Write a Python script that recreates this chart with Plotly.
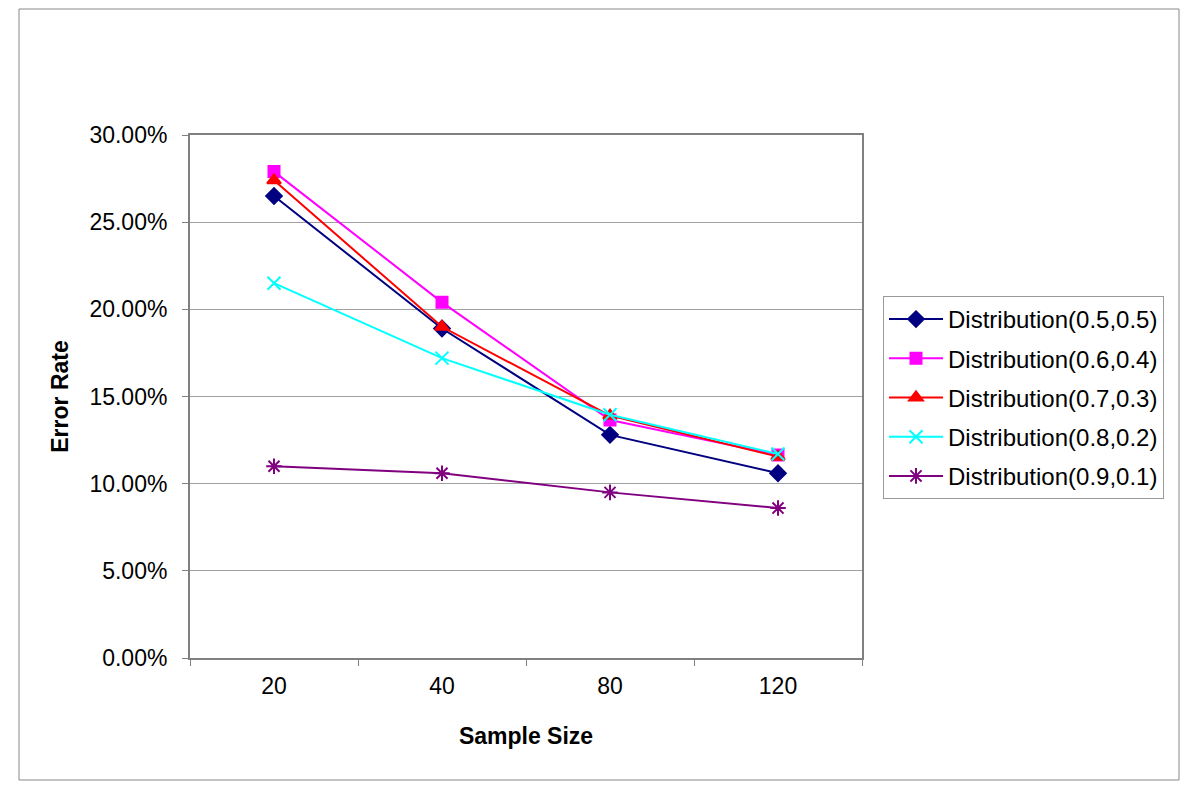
import plotly.graph_objects as go

sample_sizes = ["20", "40", "80", "120"]
series_names = ["Distribution(0.5,0.5)", "Distribution(0.6,0.4)", "Distribution(0.7,0.3)",
                "Distribution(0.8,0.2)", "Distribution(0.9,0.1)"]
d55 = [0.265, 0.189, 0.128, 0.106]
d64 = [0.279, 0.204, 0.1365, 0.1165]
d73 = [0.274, 0.190, 0.139, 0.1155]
d82 = [0.215, 0.172, 0.1395, 0.117]
d91 = [0.110, 0.106, 0.095, 0.086]

values = [d55, d64, d73, d82, d91]
colors = ["#000080", "#FF00FF", "#FF0000", "#00FFFF", "#800080"]
symbols = ["diamond", "square", "triangle-up", "x-thin-open", "asterisk-open"]
sizes = [12, 11, 12, 13, 13]

fig = go.Figure()
for name, v, c, s, sz in zip(series_names, values, colors, symbols, sizes):
    fig.add_trace(go.Scatter(
        x=sample_sizes, y=v, name=name, mode="lines+markers", legendgroup=name,
        line=dict(color=c, width=2),
        marker=dict(symbol=s, size=sz, color=c, line=dict(color=c, width=2)),
    ))

# page body has an 8px margin; work in screen coordinates then shift
OFF = 8
L, R, T, B = 190, 862, 135, 658
W, H = 1200 - OFF, 787 - OFF
pw, ph = R - L, B - T

def px(x):
    return (x - L) / pw

def py(y):
    return (B - y) / ph

fig.add_shape(type="rect", xref="paper", yref="paper",
              x0=px(19), x1=px(1179), y0=py(780), y1=py(9),
              line=dict(color="#888888", width=1), layer="below")

fig.update_layout(
    width=W, height=H,
    margin=dict(l=L - OFF, r=W - (R - OFF), t=T - OFF, b=H - (B - OFF)),
    paper_bgcolor="white", plot_bgcolor="white",
    font=dict(family="Liberation Sans, Arial, sans-serif", size=23, color="black"),
    showlegend=True,
    legend=dict(x=px(883), y=py(296), xanchor="left", yanchor="top",
                bordercolor="#999999", borderwidth=1, bgcolor="white",
                font=dict(size=24), tracegroupgap=5, itemwidth=54),
    xaxis=dict(
        type="category", tickson="boundaries", ticks="outside", ticklen=6,
        tickcolor="#808080", showline=True, linecolor="#808080", linewidth=2,
        mirror=True, showgrid=False, range=[-0.5, 3.5], ticklabelstandoff=6,
        title=dict(text="<b>Sample Size</b>", font=dict(size=23), standoff=30),
    ),
    yaxis=dict(
        range=[0, 0.30], dtick=0.05, tickformat=".2%",
        ticks="outside", ticklen=6, tickcolor="#808080",
        showline=True, linecolor="#808080", linewidth=2, mirror=True,
        showgrid=True, gridcolor="#A0A0A0", gridwidth=1, zeroline=False,
        ticklabelstandoff=10,
        title=dict(text="<b>Error Rate</b>", font=dict(size=23), standoff=14),
    ),
)

fig.write_html("out.html")
